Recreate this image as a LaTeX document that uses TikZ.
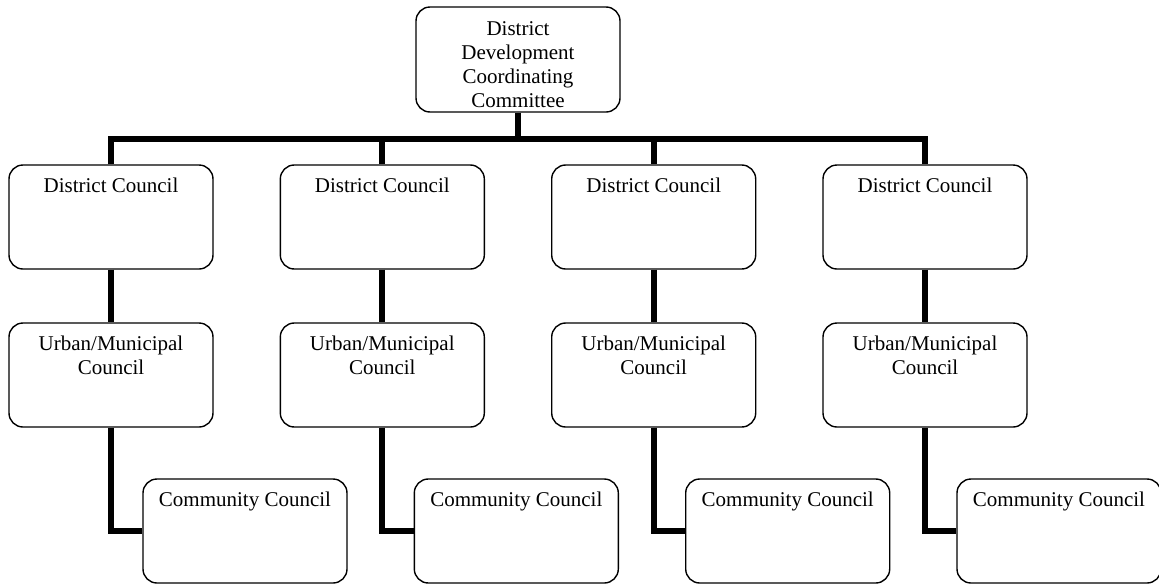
\documentclass[tikz,border=0pt]{standalone}
\usepackage{fontspec}
\setmainfont{Liberation Serif}
\begin{document}
\begin{tikzpicture}[x=1pt,y=-1pt,
  orgbox/.style={draw, line width=1.4pt, rounded corners=14pt, minimum width=204pt, minimum height=104pt, inner sep=0pt},
  boxtext/.style={anchor=north, inner sep=0pt, yshift=-13pt, align=center, font=\fontsize{21}{24}\selectfont},
  conn/.style={line width=6pt}]
\useasboundingbox (0,0) rectangle (1159,584);
\node[orgbox, minimum height=105pt, label={[boxtext, yshift=-2pt]north:District\\Development\\Coordinating\\Committee}] (top) at (518,59.5) {};
\coordinate (bus) at (0,139);
\foreach \i/\x in {1/111, 2/382.3, 3/653.7, 4/925}{
  \node[orgbox, label={[boxtext]north:District Council}] (dc\i) at (\x,217) {};
  \node[orgbox, label={[boxtext]north:Urban/Municipal\\Council}] (um\i) at (\x,375) {};
  \node[orgbox, label={[boxtext]north:Community Council}] (cc\i) at (\x+134,531) {};
  \draw[conn] (dc\i.south) -- (um\i.north);
  \draw[conn] (um\i.south) |- (cc\i.west);
}
\draw[conn] (top.south) -- (top.south |- bus);
\draw[conn] (dc1.north) -- (dc1.north |- bus) -| (dc4.north);
\draw[conn] (dc2.north) -- (dc2.north |- bus);
\draw[conn] (dc3.north) -- (dc3.north |- bus);
\end{tikzpicture}
\end{document}
